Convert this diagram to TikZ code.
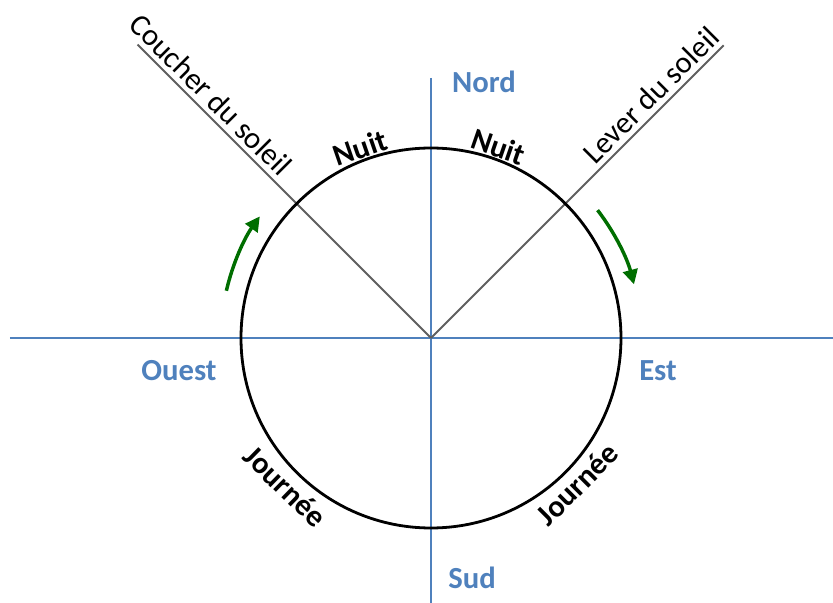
\documentclass[tikz,border=0pt]{standalone}
\usepackage{fontspec}
\setmainfont{Carlito}
\usetikzlibrary{arrows.meta}
\definecolor{axisblue}{RGB}{79,129,189}
\definecolor{sungreen}{RGB}{0,110,0}
\definecolor{linegray}{RGB}{95,95,95}

\begin{document}
\begin{tikzpicture}[x=0.75pt, y=0.75pt,
    axis/.style={axisblue, line width=1.1pt},
    sunline/.style={linegray, line width=1.5pt},
    turn/.style={sungreen, line width=2.6pt, -{Triangle[length=11pt,width=11pt]}},
    cardinal/.style={axisblue, font=\fontsize{23}{27}\selectfont\bfseries},
    period/.style={font=\fontsize{23}{27}\selectfont\bfseries},
    sunlabel/.style={text=black, font=\fontsize{23}{27}\selectfont, inner sep=3.5pt}]
    \useasboundingbox (-431,-265) rectangle (402,338);

    \coordinate (O) at (0,0);
    \coordinate (west) at (-421,0);
    \coordinate (east) at (402,0);
    \coordinate (north) at (0,260);
    \coordinate (south) at (0,-265);
    \coordinate (sunrise) at (45:414);
    \coordinate (sunset) at (135:415);

    % axes
    \draw[axis] (west) -- (east);
    \draw[axis] (north) -- (south);

    % sunrise / sunset
    \draw[sunline] (O) -- (sunrise) node[sunlabel, pos=0.79, sloped, above] {Lever du soleil};
    \draw[sunline] (O) -- (sunset) node[sunlabel, pos=0.79, sloped, above] {Coucher du soleil};

    \draw[line width=2.1pt] (O) circle (190);

    % direction of motion
    \draw[turn] (167:210) arc[start angle=167, end angle=144.6, radius=210];
    \draw[turn] (37.5:210) arc[start angle=37.5, end angle=14.8, radius=210];

    \node[cardinal] (nord) at (53,256) {Nord};
    \node[cardinal] (sud) at (41,-240) {Sud};
    \node[cardinal] (ouest) at (-252,-33) {Ouest};
    \node[cardinal] (est) at (227,-33) {Est};

    \node[period, rotate=19] (nuitW) at (110.5:203) {Nuit};
    \node[period, rotate=-19] (nuitE) at (70.6:203) {Nuit};
    \node[period, rotate=-44.4] (jourW) at (225.6:208) {Journée};
    \node[period, rotate=45] (jourE) at (315:207) {Journée};
\end{tikzpicture}
\end{document}
